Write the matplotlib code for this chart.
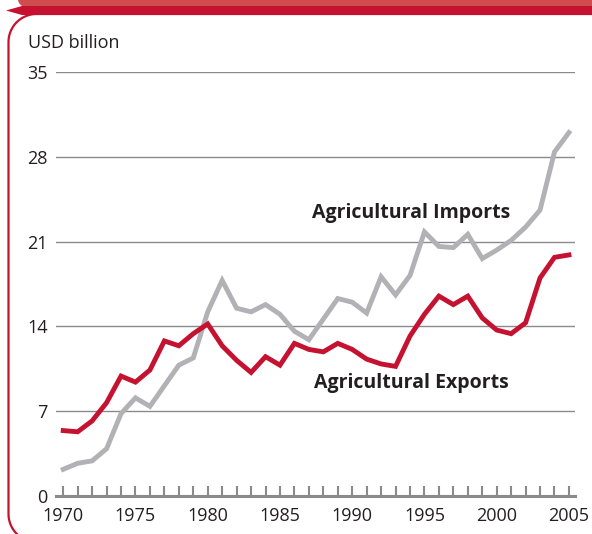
import matplotlib
matplotlib.use("Agg")
import matplotlib.pyplot as plt
import numpy as np
from matplotlib.patches import Polygon, PathPatch
from matplotlib.path import Path

years = list(range(1970, 2006))
imports = [2.2, 2.7, 2.9, 3.9, 6.8, 8.1, 7.4, 9.1, 10.8, 11.4,
           15.2, 17.8, 15.5, 15.2, 15.8, 15.0, 13.6, 12.9, 14.6, 16.3,
           16.0, 15.1, 18.1, 16.6, 18.2, 21.8, 20.6, 20.5, 21.6, 19.6,
           20.3, 21.1, 22.2, 23.6, 28.4, 30.0]
exports = [5.4, 5.3, 6.2, 7.7, 9.9, 9.4, 10.4, 12.8, 12.4, 13.4,
           14.2, 12.4, 11.2, 10.2, 11.5, 10.8, 12.6, 12.1, 11.9, 12.6,
           12.1, 11.3, 10.9, 10.7, 13.2, 15.0, 16.5, 15.8, 16.5, 14.7,
           13.7, 13.4, 14.3, 18.0, 19.7, 19.9]
y_ticks = [0, 7, 14, 21, 28, 35]
x_ticks = [1970, 1975, 1980, 1985, 1990, 1995, 2000, 2005]

RED = "#c41230"
GRAY = "#b2b2b6"
TXT = "#231f20"
FONT = ["Open Sans", "DejaVu Sans"]
plt.rcParams["font.family"] = FONT

W, H = 592, 534
fig = plt.figure(figsize=(W / 100, H / 100), dpi=100)

# background decorations in pixel coordinates (y downward)
bg = fig.add_axes([0, 0, 1, 1], zorder=-1)
bg.set_xlim(0, W)
bg.set_ylim(H, 0)
bg.axis("off")


def arc(cx, cy, r, a0, a1, n=20):
    t = np.linspace(np.radians(a0), np.radians(a1), n)
    return list(zip(cx + r * np.cos(t), cy + r * np.sin(t)))


# light band on top with rounded lower-left corner
r1 = 8
band = [(W + 5, -5), (18, -5)] + arc(18 + r1, 7 - r1, r1, 180, 90) + [(W + 5, 7)]
bg.add_patch(Polygon(band, closed=True, facecolor="#cf4d4f", edgecolor="none"))
# dark stripe with pointed left end
bg.add_patch(Polygon([(6, 10.5), (22, 6), (W + 5, 6), (W + 5, 15), (22, 15)],
                     closed=True, facecolor=RED, edgecolor="none"))
# frame: left side with rounded corners, bottom off-canvas
r = 28
x0, yt, yb = 8.5, 14, 542
pts = [(W + 10, yt)] + arc(x0 + r, yt + r, r, 270, 180) + arc(x0 + r, yb - r, r, 180, 90) + [(W + 10, yb)]
bg.add_patch(PathPatch(Path(pts), facecolor="none", edgecolor=RED, linewidth=1.6))

ax = fig.add_axes([56 / W, 1 - 496 / H, (575 - 56) / W, (496 - 72) / H])
ax.patch.set_alpha(0)
ax.set_xlim(1969.5, 2005.42)
ax.set_ylim(0, 35)

for v in y_ticks[1:]:
    ax.axhline(v, color="#8a8a8c", linewidth=1.0, zorder=1)

ax.plot(years, imports, color=GRAY, linewidth=3.5, solid_joinstyle="miter", zorder=3)
ax.plot(years, exports, color=RED, linewidth=3.5, solid_joinstyle="miter", zorder=4)

for s in ["top", "right", "left"]:
    ax.spines[s].set_visible(False)
ax.spines["bottom"].set_color("#8a8a8c")
ax.spines["bottom"].set_linewidth(2.2)
ax.spines["bottom"].set_zorder(5)

ax.set_xticks(years, minor=True)
ax.set_xticks(x_ticks)
ax.set_xticklabels([str(x) for x in x_ticks])
ax.tick_params(axis="x", which="both", direction="in", length=7, width=1.5,
               color="#8a8a8c", pad=8, labelsize=13, labelcolor=TXT)
ax.set_yticks(y_ticks)
ax.set_yticklabels([str(v) for v in y_ticks])
ax.tick_params(axis="y", length=0, pad=6, labelsize=13, labelcolor=TXT)

fig.text(28 / W, 1 - 43 / H, "USD billion", fontsize=13, color=TXT, va="center", ha="left")
ax.text(1994.1, 23.37, "Agricultural Imports", fontsize=14, fontweight="bold",
        color=TXT, ha="center", va="center")
ax.text(1994.1, 9.33, "Agricultural Exports", fontsize=14, fontweight="bold",
        color=TXT, ha="center", va="center")

fig.savefig("out.png", dpi=100)
